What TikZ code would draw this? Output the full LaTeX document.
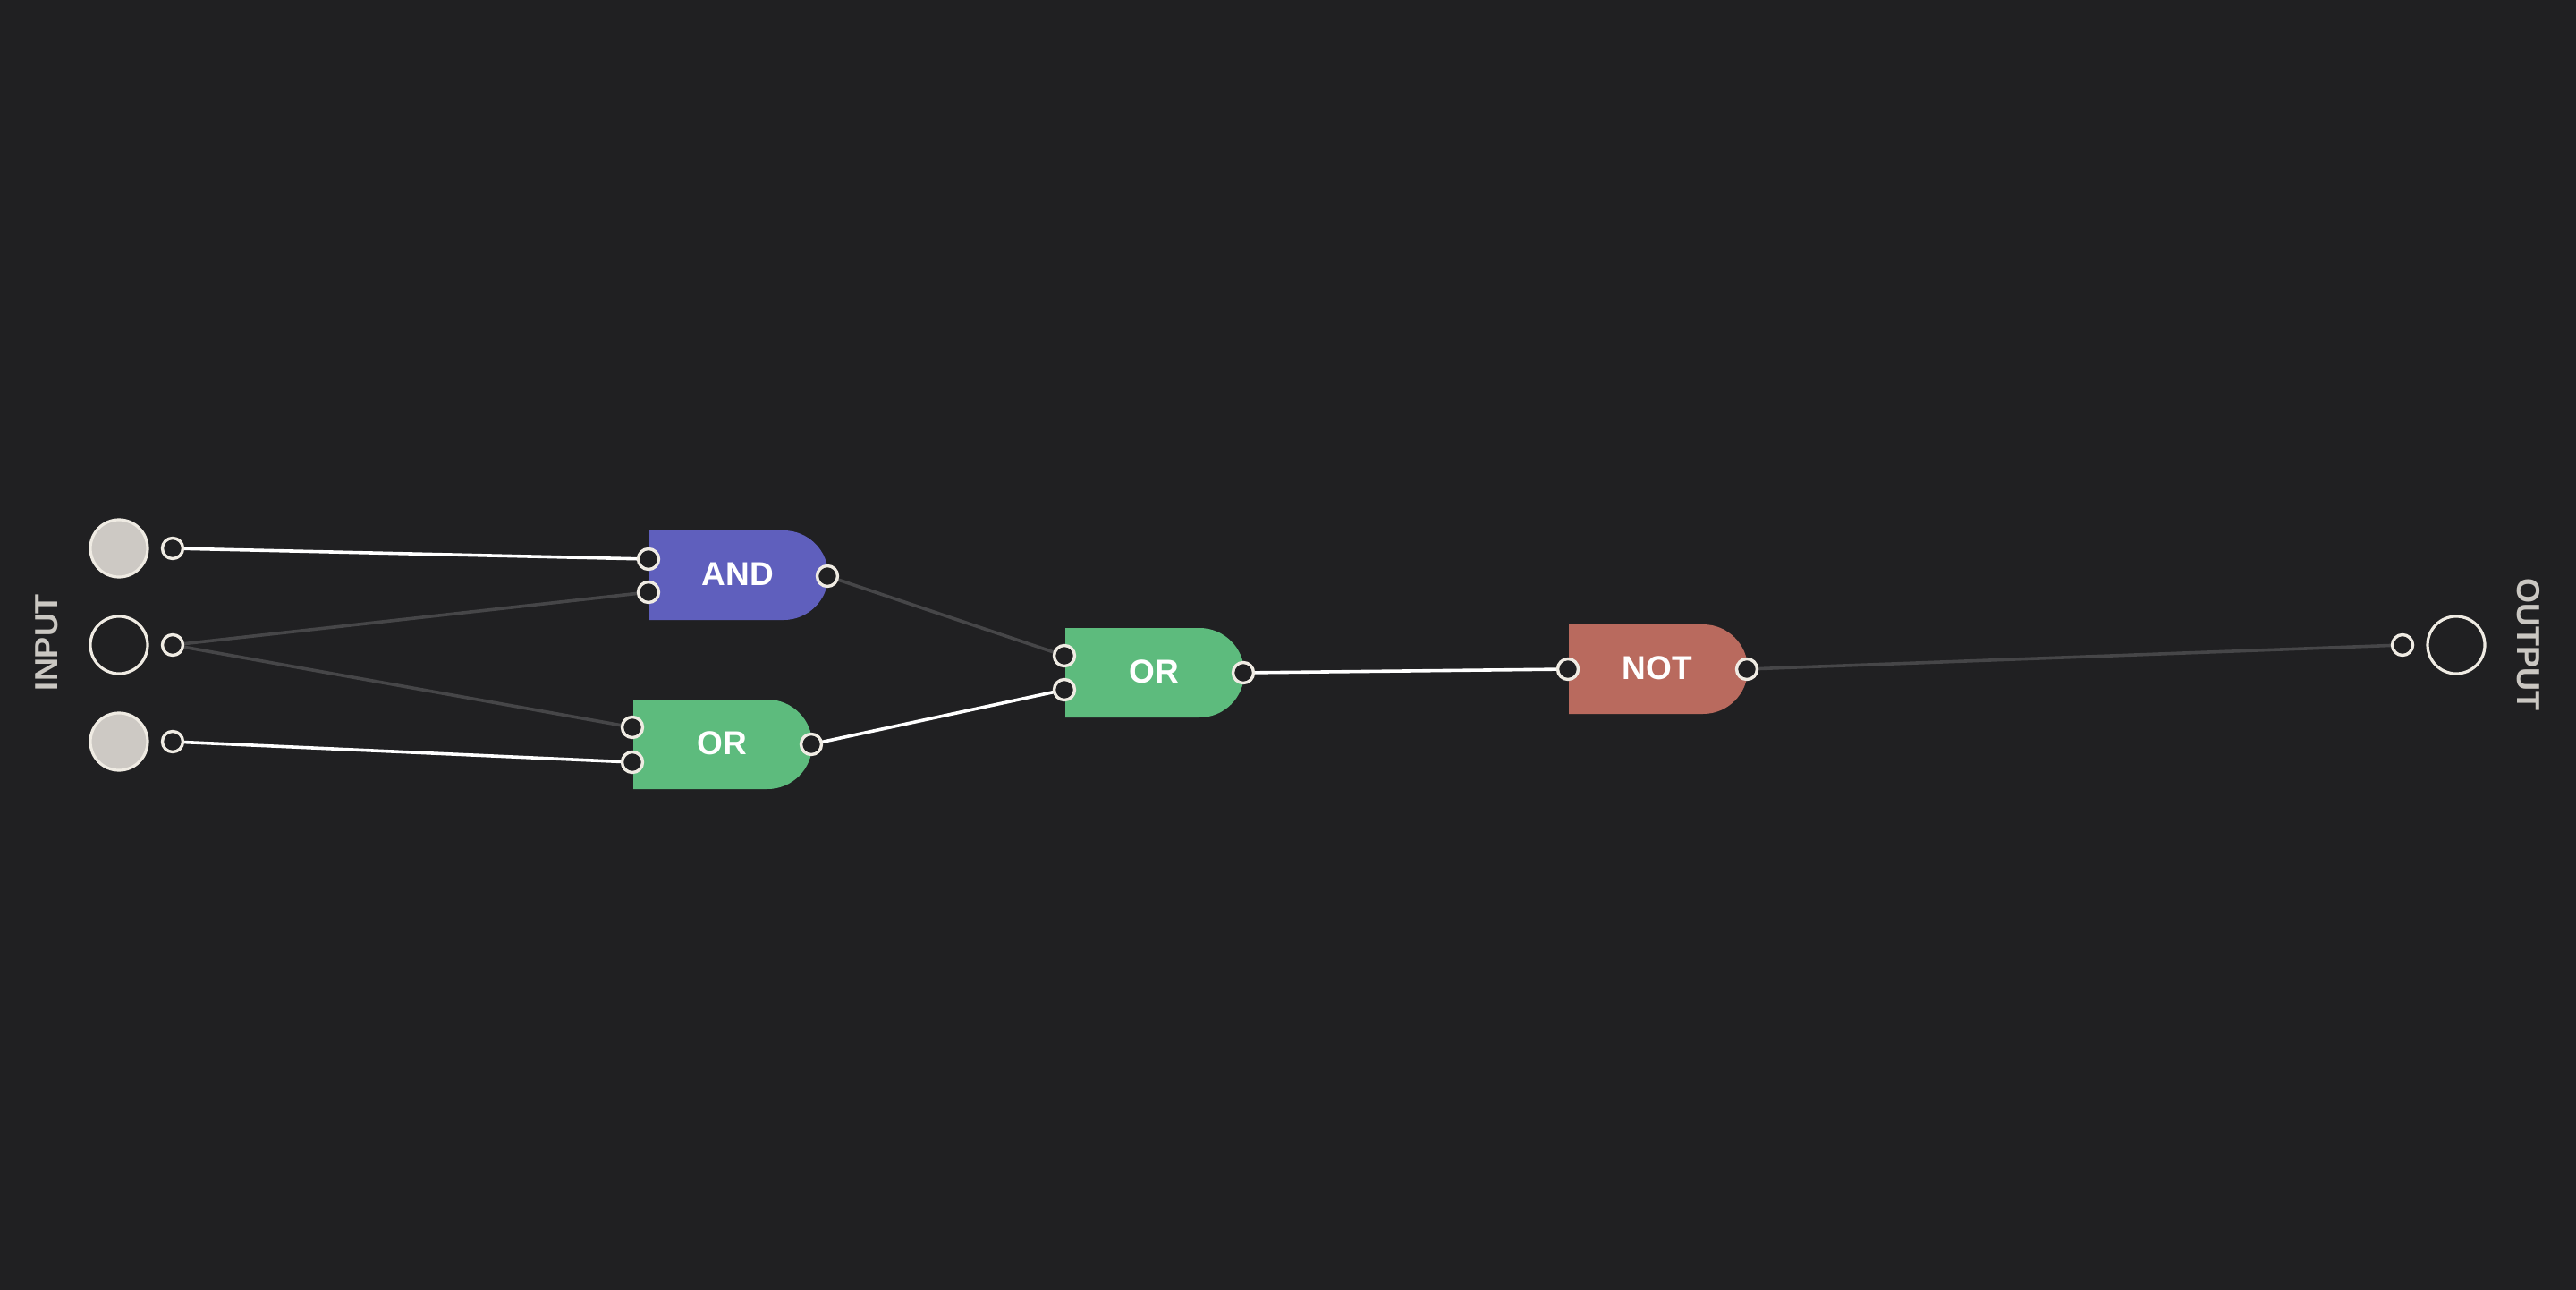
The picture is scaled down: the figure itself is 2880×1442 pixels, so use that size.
\documentclass[tikz,border=0pt]{standalone}
\usepackage{fontspec}
\setmainfont{Liberation Sans}
\usetikzlibrary{shapes.misc}
\definecolor{bgc}{HTML}{202022}
\definecolor{andc}{HTML}{5F5FBD}
\definecolor{orc}{HTML}{5DBB7D}
\definecolor{notc}{HTML}{B96A5E}
\definecolor{cream}{HTML}{EFEBE3}
\definecolor{inpfill}{HTML}{CDC9C4}
\definecolor{labc}{HTML}{CAC7C2}
\definecolor{offc}{HTML}{464648}
\tikzset{
  gate/.style={rounded rectangle, rounded rectangle left arc=none, minimum width=200pt, minimum height=100pt, inner sep=0pt, text=white, font=\fontsize{37}{37}\selectfont\bfseries},
  port/.style={circle, draw=cream, fill=bgc, line width=3.4pt, minimum size=23pt, inner sep=0pt},
  inon/.style={circle, draw=cream, fill=inpfill, line width=3.2pt, minimum size=64pt, inner sep=0pt},
  inoff/.style={circle, draw=cream, fill=bgc, line width=3.2pt, minimum size=64pt, inner sep=0pt},
  wireon/.style={draw=white, line width=3.6pt},
  wireoff/.style={draw=offc, line width=3.6pt},
  sidelab/.style={text=labc, font=\fontsize{36}{36}\selectfont\bfseries, inner sep=0pt}
}
\begin{document}
\begin{tikzpicture}[x=1pt,y=-1pt]
\fill[bgc] (0,0) rectangle (2880,1442);
\useasboundingbox (0,0) rectangle (2880,1442);
% inputs
\node[inon] (in1) at (133,613) {};
\node[inoff] (in2) at (133,721) {};
\node[inon] (in3) at (133,829) {};
\node[sidelab, rotate=90] (inlab) at (52,718) {INPUT};
% gates
\node[gate, fill=andc] (and) at (825,643) {\raisebox{3pt}{AND}};
\node[gate, fill=orc] (or1) at (807,832) {\raisebox{3pt}{OR}};
\node[gate, fill=orc] (or2) at (1290,752) {\raisebox{3pt}{OR}};
\node[gate, fill=notc] (not) at (1853,748) {\raisebox{3pt}{NOT}};
% output
\node[inoff] (out) at (2746,721) {};
\node[sidelab, rotate=-90] (outlab) at (2827,720) {OUTPUT};
% port positions
\coordinate (in1pc) at (193,613);
\coordinate (in2pc) at (193,721);
\coordinate (in3pc) at (193,829);
\coordinate (andi1c) at (725,625);
\coordinate (andi2c) at (725,662);
\coordinate (ando) at (925,644);
\coordinate (or1i1c) at (707,813);
\coordinate (or1i2c) at (707,852);
\coordinate (or1oc) at (907,832);
\coordinate (or2i1c) at (1190,733);
\coordinate (or2i2c) at (1190,771);
\coordinate (or2oc) at (1390,752);
\coordinate (notic) at (1753,748);
\coordinate (notoc) at (1953,748);
\coordinate (outpc) at (2686,721);
% wires (under ports)
\draw[wireon] (in1pc) -- (andi1c);
\draw[wireoff] (in2pc) -- (andi2c);
\draw[wireoff] (in2pc) -- (or1i1c);
\draw[wireon] (in3pc) -- (or1i2c);
\draw[wireoff] (ando) -- (or2i1c);
\draw[wireon] (or1oc) -- (or2i2c);
\draw[wireon] (or2oc) -- (notic);
\draw[wireoff] (notoc) -- (outpc);
% ports
\node[port] (p1) at (in1pc) {};
\node[port] (p2) at (in2pc) {};
\node[port] (p3) at (in3pc) {};
\node[port] (pa1) at (andi1c) {};
\node[port] (pa2) at (andi2c) {};
\node[port] (pao) at (ando) {};
\node[port] (pb1) at (or1i1c) {};
\node[port] (pb2) at (or1i2c) {};
\node[port] (pbo) at (or1oc) {};
\node[port] (pc1) at (or2i1c) {};
\node[port] (pc2) at (or2i2c) {};
\node[port] (pco) at (or2oc) {};
\node[port] (pni) at (notic) {};
\node[port] (pno) at (notoc) {};
\node[port] (pout) at (outpc) {};
\end{tikzpicture}
\end{document}
